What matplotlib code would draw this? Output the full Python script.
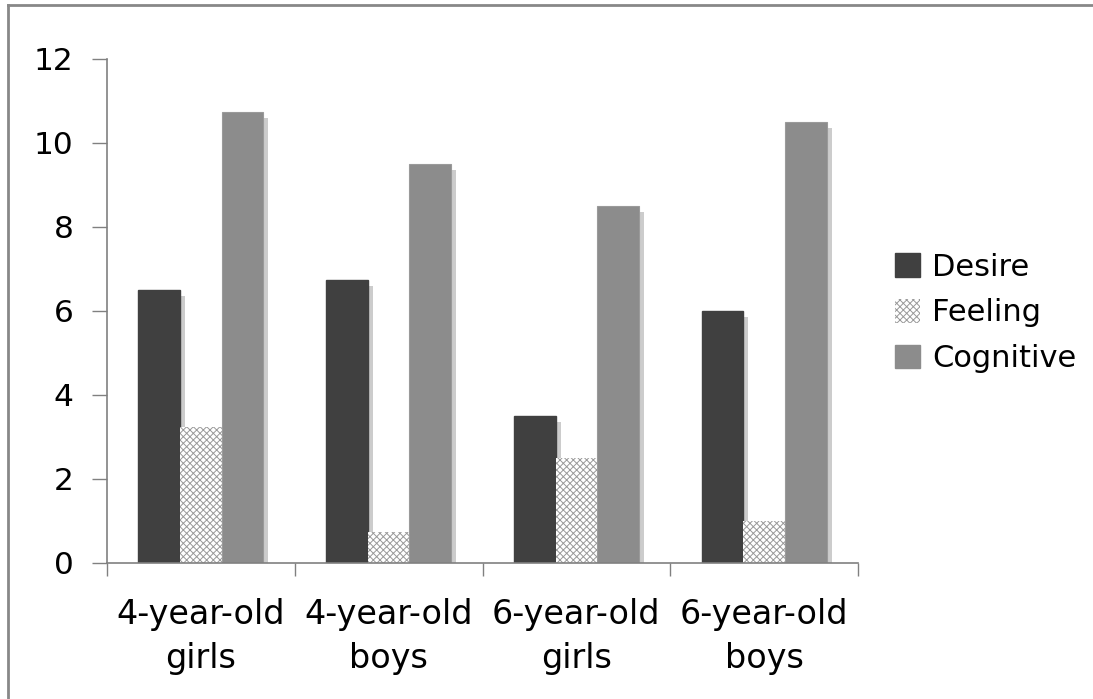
import numpy as np
import matplotlib.pyplot as plt
from matplotlib.lines import Line2D
from matplotlib.patches import Patch

plt.rcParams['font.family'] = ['DejaVu Sans']
plt.rcParams['hatch.linewidth'] = 0.7

categories = ['4-year-old\ngirls', '4-year-old\nboys', '6-year-old\ngirls', '6-year-old\nboys']
series = ['Desire', 'Feeling', 'Cognitive']
desire = [6.5, 6.75, 3.5, 6.0]
feeling = [3.25, 0.75, 2.5, 1.0]
cognitive = [10.75, 9.5, 8.5, 10.5]

W, H = 1093, 699
fig = plt.figure(figsize=(W / 100, H / 100), dpi=100)
ax = fig.add_axes([107 / W, 1 - 563 / H, (858 - 107) / W, (563 - 59) / H])

x = np.arange(len(categories))
bw = 0.222
offsets = [-bw, 0, bw]
styles = [
    dict(color='#404040', edgecolor='#404040'),
    dict(color='white', edgecolor='#999999', hatch='xxxxx', linewidth=0),
    dict(color='#8c8c8c', edgecolor='#9a9a9a', linewidth=0.8),
]

# shadows behind the bars
sdx = 5 / 188
for vals, off in zip([desire, feeling, cognitive], offsets):
    ax.bar(x + off + sdx, np.array(vals) - 0.15, bw, color='#cccccc', zorder=1)

for vals, off, st in zip([desire, feeling, cognitive], offsets, styles):
    ax.bar(x + off, vals, bw, zorder=2, **st)

ax.set_xlim(-0.5, len(categories) - 0.5)
ax.set_ylim(0, 12)
ax.set_yticks(range(0, 13, 2))
ax.set_xticks(np.arange(-0.5, len(categories), 1))
ax.set_xticklabels([])
ax.set_xticks(x, minor=True)
ax.set_xticklabels(categories, minor=True, fontsize=24, linespacing=1.45)
ax.tick_params(axis='x', which='minor', length=0, pad=25)
ax.tick_params(axis='x', which='major', length=9, width=1, color='#808080', direction='out')
ax.tick_params(axis='y', length=11, width=1, color='#808080', labelsize=22.5, pad=13)

for s in ['top', 'right']:
    ax.spines[s].set_visible(False)
for s in ['left', 'bottom']:
    ax.spines[s].set_color('#808080')
    ax.spines[s].set_linewidth(1.2)

handles = [Patch(facecolor='#404040', edgecolor='#404040'),
           Patch(facecolor='white', edgecolor='#999999', hatch='xxxxx', linewidth=0),
           Patch(facecolor='#8c8c8c', edgecolor='#8c8c8c')]
fig.legend(handles, series, loc='center left', bbox_to_anchor=(880 / W, 1 - 313 / H),
           frameon=False, fontsize=22, handlelength=0.8, handleheight=0.8,
           handletextpad=0.4, labelspacing=0.55, borderpad=0)

# outer frame
fig.add_artist(Line2D([8 / W, 8 / W], [0, 1 - 5 / H], transform=fig.transFigure, color='#888888', lw=2))
fig.add_artist(Line2D([8 / W, 1], [1 - 5 / H, 1 - 5 / H], transform=fig.transFigure, color='#888888', lw=2))

fig.savefig('out.png', dpi=100)
